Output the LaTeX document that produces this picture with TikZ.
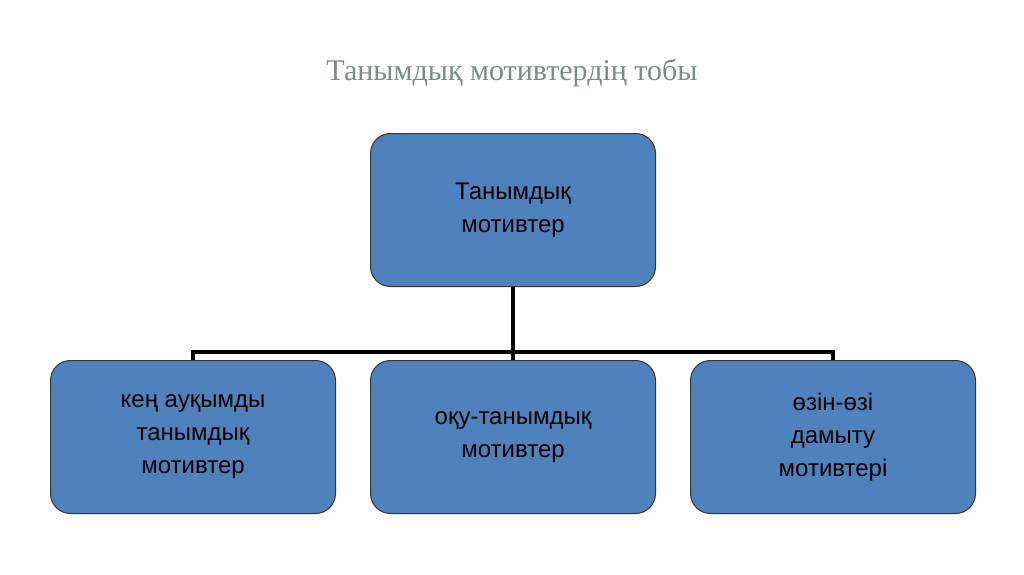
\documentclass[tikz,border=0pt]{standalone}
\usepackage{fontspec}
\setmainfont{Liberation Serif}
\newfontfamily\boxfont{Liberation Sans}
\definecolor{boxblue}{RGB}{79,129,189}
\definecolor{titlec}{RGB}{120,140,136}
\begin{document}
\begin{tikzpicture}[x=1pt,y=-1pt,
  bx/.style={draw=black!80,line width=1pt,fill=boxblue,rounded corners=20pt,minimum width=285pt,minimum height=153pt,align=center,font=\boxfont\fontsize{24}{33}\selectfont,anchor=north west,text=black},
  conn/.style={line width=4pt,draw=black}]
\useasboundingbox (0,0) rectangle (1024,574);
\node[font=\fontsize{30}{36}\selectfont,text=titlec] (title) at (512,73) {Танымдық мотивтердің тобы};
\node[bx] (top) at (370,133) {Танымдық\\мотивтер};
\node[bx] (l) at (50,360) {кең ауқымды\\танымдық\\мотивтер};
\node[bx] (m) at (370,360) {оқу-танымдық\\мотивтер};
\node[bx] (r) at (690,360) {өзін-өзі\\дамыту\\мотивтері};
\coordinate (hl) at (l.north |- 0,352);
\coordinate (hr) at (r.north |- 0,352);
\draw[conn] (top.south) -- (m.north);
\draw[conn] (l.north) -- (hl) -- (hr) -- (r.north);
\end{tikzpicture}
\end{document}
